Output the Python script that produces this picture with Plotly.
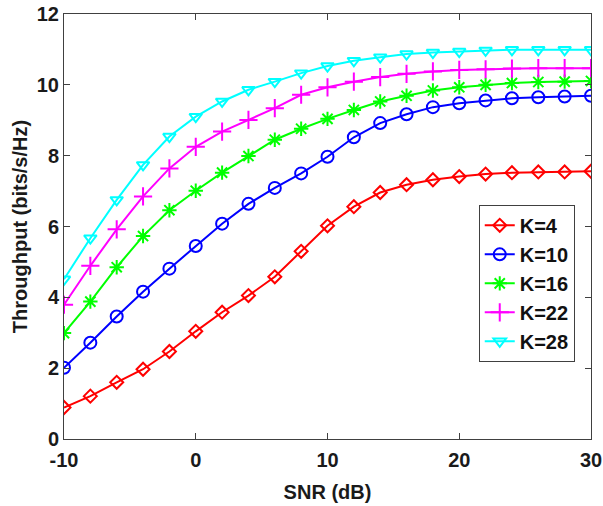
import plotly.graph_objects as go

snr = [-10, -8, -6, -4, -2, 0, 2, 4, 6, 8, 10, 12, 14, 16, 18, 20, 22, 24, 26, 28, 30]

k4 = [0.89, 1.21, 1.60, 1.97, 2.47, 3.04, 3.58, 4.05, 4.58, 5.30, 6.02, 6.56, 6.96, 7.18, 7.32, 7.41, 7.48, 7.52, 7.54, 7.54, 7.56]
k10 = [2.01, 2.72, 3.46, 4.16, 4.81, 5.45, 6.08, 6.64, 7.09, 7.50, 7.97, 8.52, 8.92, 9.17, 9.37, 9.48, 9.56, 9.62, 9.65, 9.67, 9.69]
k16 = [2.99, 3.88, 4.85, 5.73, 6.46, 7.01, 7.52, 7.99, 8.45, 8.76, 9.04, 9.29, 9.53, 9.69, 9.84, 9.93, 10.00, 10.05, 10.08, 10.09, 10.11]
k22 = [3.79, 4.89, 5.92, 6.85, 7.64, 8.25, 8.68, 9.01, 9.34, 9.72, 9.93, 10.09, 10.22, 10.31, 10.38, 10.42, 10.44, 10.46, 10.47, 10.47, 10.47]
k28 = [4.51, 5.67, 6.75, 7.74, 8.54, 9.10, 9.53, 9.86, 10.09, 10.33, 10.53, 10.68, 10.78, 10.87, 10.91, 10.94, 10.97, 10.99, 10.99, 10.99, 10.99]

names = ["K=4", "K=10", "K=16", "K=22", "K=28"]
series = [k4, k10, k16, k22, k28]
colors = ["#ff0000", "#0000ff", "#00ff00", "#ff00ff", "#00ffff"]
symbols = ["diamond-open", "circle-open", "asterisk-open", "cross-thin-open", "triangle-down-open"]
sizes = [10, 12, 12, 13, 11]

x_ticks = [-10, 0, 10, 20, 30]
y_ticks = [0, 2, 4, 6, 8, 10, 12]

FONT = "Liberation Sans, Arial, sans-serif"

fig = go.Figure()
for name, ys, c, s, sz in zip(names, series, colors, symbols, sizes):
    fig.add_trace(go.Scatter(
        x=snr, y=ys, name="<b>" + name + "</b>", mode="lines+markers", legendgroup=name,
        line=dict(color=c, width=2),
        marker=dict(symbol=s, size=sz, color=c, line=dict(color=c, width=2)),
    ))

axis_common = dict(
    showline=True, linecolor="#404040", linewidth=1, mirror="ticks",
    ticks="inside", ticklen=6, tickcolor="#404040", showgrid=False, zeroline=False,
    automargin=False,
    tickfont=dict(family=FONT, size=20, color="#1a1a1a"),
)

fig.update_layout(
    width=603, height=506,
    margin=dict(l=64, r=12, t=14, b=67),
    paper_bgcolor="white", plot_bgcolor="white",
    font=dict(family=FONT, color="#1a1a1a"),
    xaxis=dict(range=[-10, 30], tickvals=x_ticks, ticktext=["<b>%d</b>" % v for v in x_ticks],
               ticklabelstandoff=3,
               title=dict(text="<b>SNR (dB)</b>", font=dict(size=20), standoff=14), **axis_common),
    yaxis=dict(range=[0, 12], tickvals=y_ticks, ticktext=["<b>%d</b>" % v for v in y_ticks],
               title=dict(text="<b>Throughput (bits/s/Hz)</b>", font=dict(size=20), standoff=3), **axis_common),
    legend=dict(x=0.787, y=0.551, xanchor="left", yanchor="top",
                bgcolor="white", bordercolor="#404040", borderwidth=1,
                font=dict(size=20, family=FONT, color="#111111"),
                traceorder="grouped", tracegroupgap=0, itemwidth=30),
    showlegend=True,
)

fig.write_html("out.html", config={"displayModeBar": False},
               post_script="document.body.style.margin='0';")
